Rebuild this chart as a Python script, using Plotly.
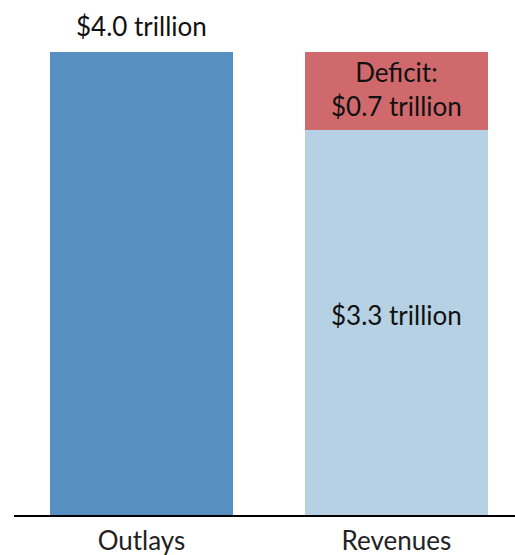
import plotly.graph_objects as go

categories = ["Outlays", "Revenues"]
outlays = [4.0]
revenues = [3.33]
deficit = [0.67]
outlay_label = "$4.0 trillion"
revenue_label = "$3.3 trillion"
deficit_label = "Deficit:<br>$0.7 trillion"

FONT = "Lato"
TF = dict(size=26, color="#111", family=FONT)
fig = go.Figure()
fig.add_trace(go.Bar(x=[categories[0]], y=outlays, marker_color="#5790C0", width=0.72,
                     marker_line_width=0))
fig.add_trace(go.Bar(x=[categories[1]], y=revenues, marker_color="#B7D1E4", width=0.72,
                     marker_line_width=0))
fig.add_trace(go.Bar(x=[categories[1]], y=deficit, marker_color="#D0696C", width=0.72,
                     marker_line_width=0))

fig.add_annotation(x=categories[0], y=outlays[0], text=outlay_label, showarrow=False,
                   yanchor="bottom", yshift=8, font=TF)
fig.add_annotation(x=categories[1], y=revenues[0] / 2, text=revenue_label, showarrow=False,
                   yanchor="middle", yshift=7, font=TF)
fig.add_annotation(x=categories[1], y=revenues[0] + deficit[0] / 2, text=deficit_label,
                   showarrow=False, yanchor="middle", yshift=2, font=TF)

fig.update_layout(
    barmode="stack", width=515, height=555, showlegend=False,
    margin=dict(l=14, r=0, t=0, b=40),
    plot_bgcolor="white", paper_bgcolor="white",
    font=dict(family=FONT, size=26, color="#111"),
    xaxis=dict(range=[-0.5, 1.465], showline=True, linecolor="black", linewidth=2,
               ticks="", showgrid=False, ticklabelstandoff=2,
               tickfont=dict(size=26, color="#222", family=FONT)),
    yaxis=dict(range=[0, 4.449], visible=False, showgrid=False),
)
fig.write_html("out.html")
